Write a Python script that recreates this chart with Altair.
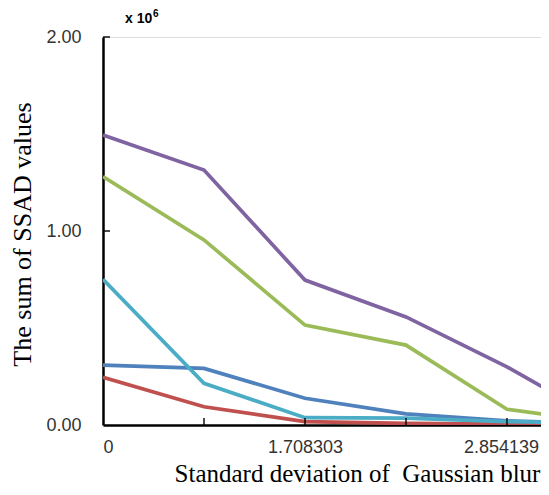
import altair as alt
import pandas as pd

# ---- data ----
x_index = [0, 1, 2, 3, 4, 5]
x_label_pos = [0, 2, 4]
x_label_text = ["0", "1.708303", "2.854139"]
y_ticks = [0, 1, 2]

series_names = ["S1", "S2", "S3", "S4", "S5"]
s1_blue = [0.309, 0.292, 0.138, 0.057, 0.021, 0.008]
s2_red = [0.246, 0.094, 0.017, 0.008, 0.004, 0.002]
s3_green = [1.280, 0.954, 0.515, 0.412, 0.081, 0.011]
s4_purple = [1.495, 1.314, 0.747, 0.557, 0.300, 0.004]
s5_cyan = [0.751, 0.215, 0.038, 0.035, 0.017, 0.010]
colors = ["#4F81BD", "#C0504D", "#9BBB59", "#8064A2", "#4BACC6"]

rows = []
for name, vals in zip(series_names, [s1_blue, s2_red, s3_green, s4_purple, s5_cyan]):
    for i, v in zip(x_index, vals):
        rows.append({"series": name, "idx": i, "value": v})
df = pd.DataFrame(rows)

label_expr = " : ".join(
    f"datum.value == {p} ? '{t}'" for p, t in zip(x_label_pos, x_label_text)
) + " : ''"

x_scale = alt.Scale(domain=[0, 4.337], nice=False, zero=False)
y_scale = alt.Scale(domain=[0, 2], nice=False)

lines = alt.Chart(df).mark_line(strokeWidth=3.7, clip=True).encode(
    x=alt.X("idx:Q", scale=x_scale,
            axis=alt.Axis(values=x_label_pos, labelExpr=label_expr,
                          title="Standard deviation of\u00a0 Gaussian blur",
                          titleFont="Liberation Serif", titleFontSize=25,
                          titleFontWeight="normal", titleColor="#000",
                          titleX=254, titleY=56, titleBaseline="alphabetic",
                          titleAlign="center",
                          labelFont="Liberation Sans", labelFontSize=18,
                          labelColor="#333", labelPadding=13,
                          labelOffset={"condition": {"test": "datum.value == 4", "value": -6}, "value": 0},
                          tickSize=0, grid=False,
                          domainColor="#000", domainWidth=2.5)),
    y=alt.Y("value:Q", scale=y_scale,
            axis=alt.Axis(values=y_ticks, format=".2f",
                          title="The sum of SSAD values",
                          titleFont="Liberation Serif", titleFontSize=26,
                          titleFontWeight="normal", titleColor="#000",
                          titleAngle=-90, titleX=-81, titleY=197,
                          titleAlign="center", titleBaseline="middle",
                          labelFont="Liberation Sans", labelFontSize=18,
                          labelColor="#333", labelPadding=22,
                          tickSize=0, grid=False,
                          domainColor="#000", domainWidth=2.5)),
    color=alt.Color("series:N", scale=alt.Scale(domain=series_names, range=colors), legend=None),
    order=alt.Order("series:N"),
)

xt = pd.DataFrame({"idx": [1, 2, 3, 4]})
x_ticks_layer = alt.Chart(xt).mark_tick(orient="vertical", size=7, thickness=2,
                                        color="#000", yOffset=-3.5).encode(
    x=alt.X("idx:Q", scale=x_scale), y=alt.YDatum(0))

yt = pd.DataFrame({"value": [1, 2]})
y_ticks_layer = alt.Chart(yt).mark_tick(orient="horizontal", size=7, thickness=2,
                                        color="#000", xOffset=3.5).encode(
    y=alt.Y("value:Q", scale=y_scale), x=alt.XDatum(0))

mult = alt.Chart(pd.DataFrame({"t": ["x 10"]})).mark_text(
    font="Liberation Sans", fontSize=14, fontWeight="bold", align="left",
    baseline="alphabetic", color="#000").encode(
    text="t:N", x=alt.value(22), y=alt.value(-14))
sup = alt.Chart(pd.DataFrame({"t": ["6"]})).mark_text(
    font="Liberation Sans", fontSize=10, fontWeight="bold", align="left",
    baseline="alphabetic", color="#000").encode(
    text="t:N", x=alt.value(50), y=alt.value(-20))

chart = alt.layer(lines, x_ticks_layer, y_ticks_layer, mult, sup).properties(
    width=438, height=388,
    autosize=alt.AutoSizeParams(type="none"),
    padding={"left": 95, "top": 29, "right": 0, "bottom": 62},
).configure_view(stroke=None).configure(background="white")

chart.save("out.html", embed_options={"renderer": "svg", "actions": False})
